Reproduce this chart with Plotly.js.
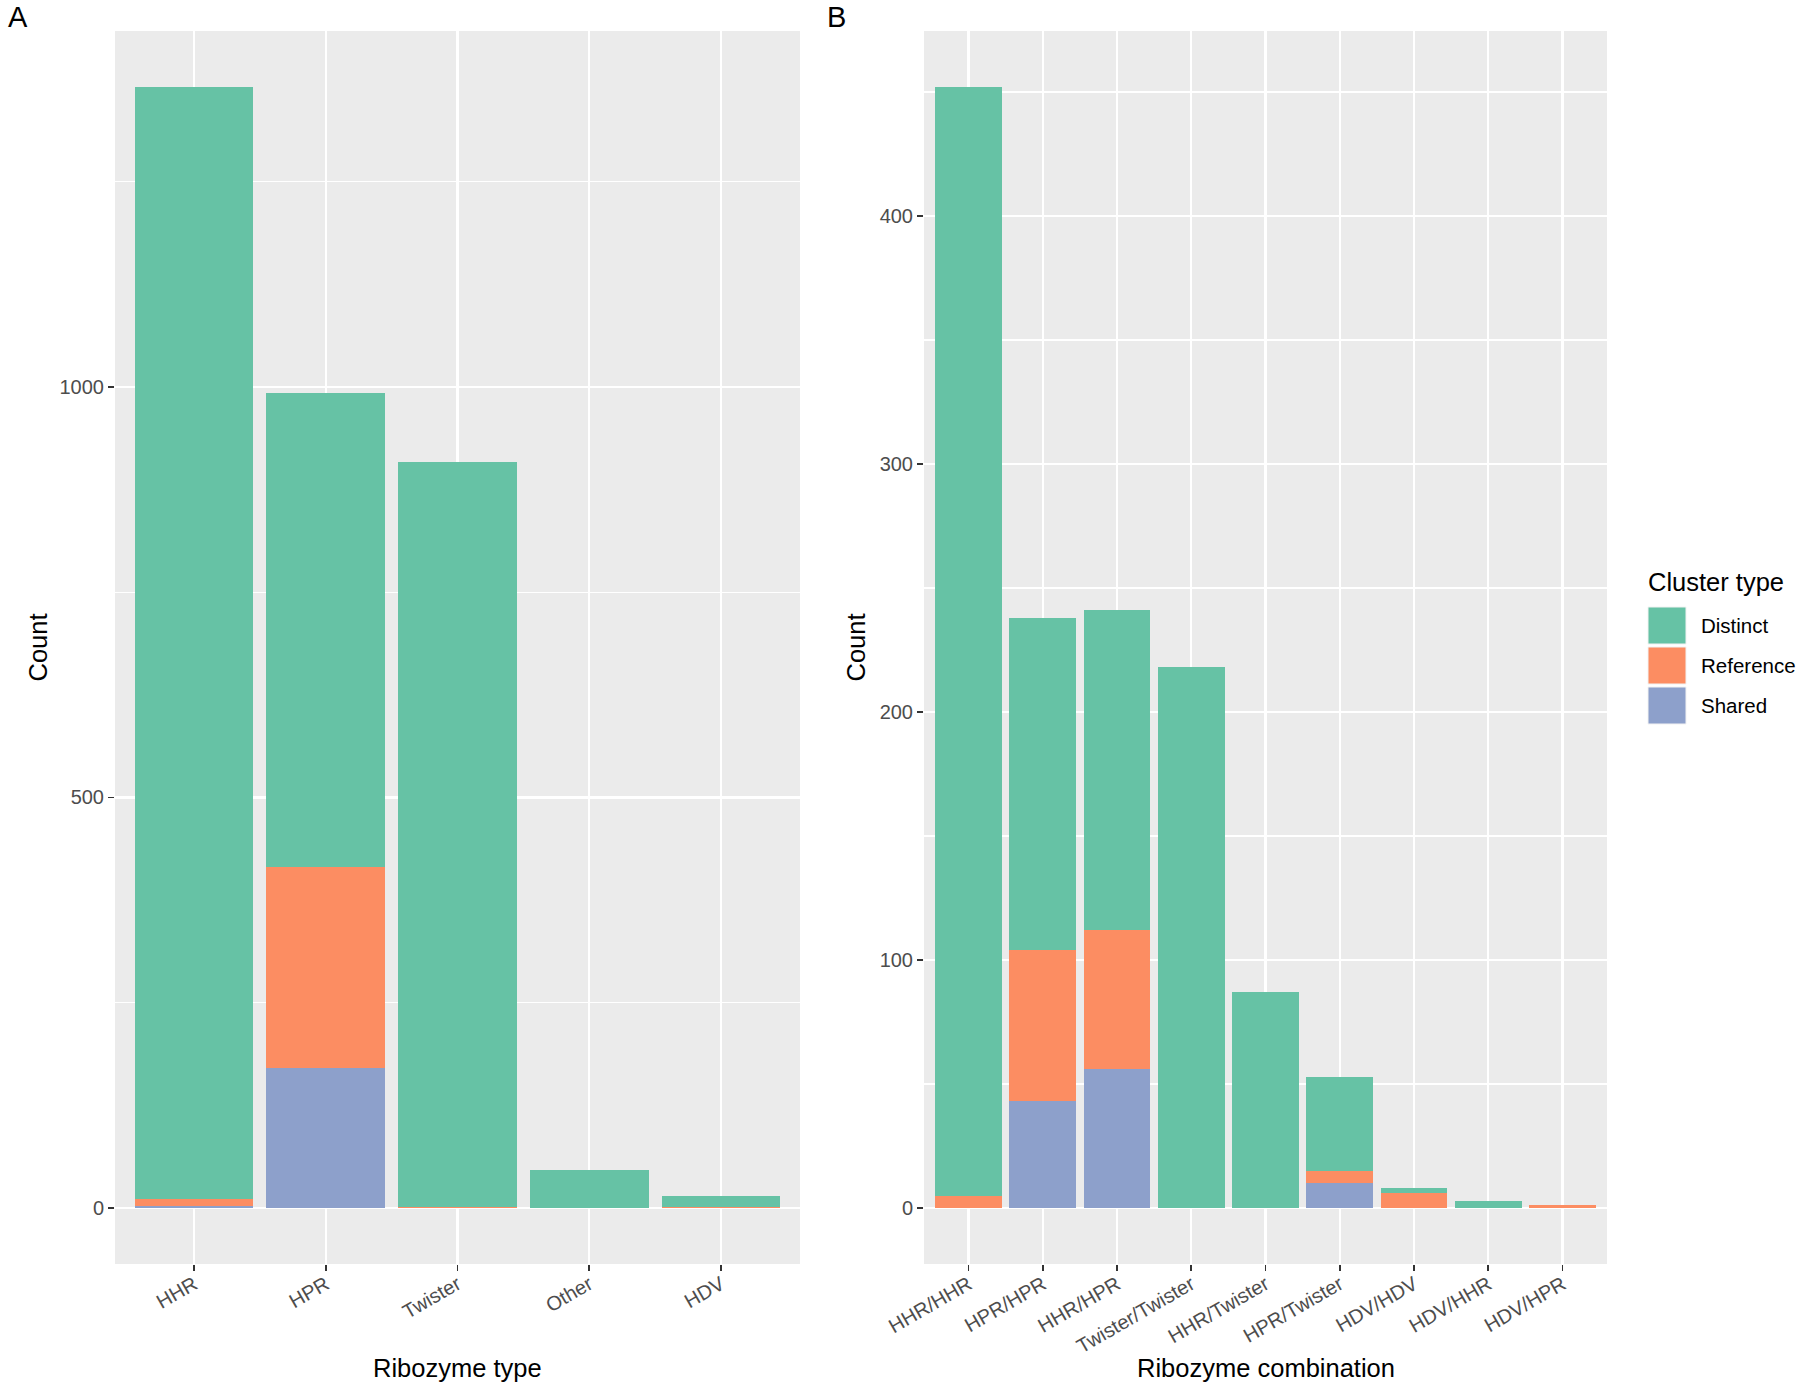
<!DOCTYPE html>
<html>
<head>
<meta charset="utf-8">
<script src="https://cdn.plot.ly/plotly-3.0.1.min.js"></script>
<style>
  html, body { margin: 0; padding: 0; background: #fff; }
  #chart { width: 1800px; height: 1389px; }
</style>
</head>
<body>
<div id="chart"></div>
<script>
// Panel A: counts per ribozyme type
var typeCats = ['HHR', 'HPR', 'Twister', 'Other', 'HDV'];
var typeDistinct = [1354, 577, 908, 46, 14];
var typeReference = [9, 244, 1, 0, 1];
var typeShared = [2, 171, 0, 0, 0];

// Panel B: counts per ribozyme combination
var combCats = ['HHR/HHR', 'HPR/HPR', 'HHR/HPR', 'Twister/Twister', 'HHR/Twister',
                'HPR/Twister', 'HDV/HDV', 'HDV/HHR', 'HDV/HPR'];
var combDistinct = [447, 134, 129, 218, 87, 38, 2, 3, 0];
var combReference = [5, 61, 56, 0, 0, 5, 6, 0, 1];
var combShared = [0, 43, 56, 0, 0, 10, 0, 0, 0];

var clusterTypes = ['Distinct', 'Reference', 'Shared'];
var clusterColors = ['#66C2A5', '#FC8D62', '#8DA0CB'];

var FONT = 'Liberation Sans, Arial, Helvetica, sans-serif';
var CHART = document.getElementById('chart');

function barTrace(x, y, idx, xa, ya) {
    return {
        x: x, y: y, type: 'bar', name: clusterTypes[idx],
        xaxis: xa, yaxis: ya, showlegend: false,
        marker: { color: clusterColors[idx], line: { width: 0 } },
        hoverinfo: 'x+y+name'
    };
}

// plotly stacks the first trace at the bottom, so Shared goes first
var data = [
    barTrace(typeCats, typeShared, 2, 'x', 'y'),
    barTrace(typeCats, typeReference, 1, 'x', 'y'),
    barTrace(typeCats, typeDistinct, 0, 'x', 'y'),
    barTrace(combCats, combShared, 2, 'x2', 'y2'),
    barTrace(combCats, combReference, 1, 'x2', 'y2'),
    barTrace(combCats, combDistinct, 0, 'x2', 'y2')
];

function totals(a, b, c) {
    return a.map(function (v, i) { return v + b[i] + c[i]; });
}
var maxA = Math.max.apply(null, totals(typeDistinct, typeReference, typeShared));
var maxB = Math.max.apply(null, totals(combDistinct, combReference, combShared));

var tickFont = { family: FONT, size: 20, color: '#4D4D4D' };
var titleFont = { family: FONT, size: 25.5, color: '#000' };

function xAxis(n, domain, anchor) {
    return {
        domain: domain, anchor: anchor, type: 'category',
        range: [-0.6, n - 0.4],
        showgrid: true, gridcolor: '#FFFFFF', gridwidth: 2.3,
        zeroline: false, showline: false,
        ticks: 'outside', ticklen: 6, tickwidth: 1.6, tickcolor: '#333333',
        tickangle: -30, tickfont: tickFont, ticklabelstandoff: -6,
        fixedrange: true
    };
}
function yAxis(maxv, dtick, anchor) {
    return {
        domain: [0, 1], anchor: anchor,
        range: [-0.05 * maxv, maxv * 1.05],
        tickmode: 'linear', tick0: 0, dtick: dtick,
        showgrid: true, gridcolor: '#FFFFFF', gridwidth: 2.3,
        minor: { dtick: dtick / 2, showgrid: true, gridcolor: '#FFFFFF', gridwidth: 1.1, ticks: '' },
        zeroline: false, showline: false,
        ticks: 'outside', ticklen: 6, tickwidth: 1.6, tickcolor: '#333333',
        tickfont: tickFont,
        fixedrange: true
    };
}

var layout = {
    width: 1800, height: 1389,
    margin: { l: 115, r: 193, t: 31, b: 125 },
    paper_bgcolor: '#FFFFFF',
    plot_bgcolor: '#EBEBEB',
    barmode: 'stack', bargap: 0.1,
    font: { family: FONT },
    showlegend: false,
    xaxis: xAxis(typeCats.length, [0, 685 / 1492], 'y'),
    yaxis: yAxis(maxA, 500, 'x'),
    xaxis2: xAxis(combCats.length, [809 / 1492, 1], 'y2'),
    yaxis2: yAxis(maxB, 100, 'x2')
};

// pixel positions -> paper coords (panels are aligned like the ggplot grid)
var W = 1492, H = 1389 - 31 - 125;
function px(x) { return (x - 115) / W; }
function py(y) { return 1 - (y - 31) / H; }

function note(text, x, y, font, xanchor, angle) {
    return {
        text: text, x: px(x), y: py(y), xref: 'paper', yref: 'paper',
        xanchor: xanchor || 'center', yanchor: 'middle', showarrow: false,
        textangle: angle || 0, font: font
    };
}
var tagFont = { family: FONT, size: 29, color: '#000' };

layout.annotations = [
    note('A', 6, 17, tagFont, 'left'),
    note('B', 825, 17, tagFont, 'left'),
    note('Ribozyme type', 457.5, 1368, titleFont),
    note('Ribozyme combination', 1265.5, 1368, titleFont),
    note('Count', 37, 647.5, titleFont, 'center', -90),
    note('Count', 855, 647.5, titleFont, 'center', -90),
    note('Cluster type', 1646, 582, { family: FONT, size: 25.5, color: '#000' }, 'left')
];

// legend keys drawn to the ggplot key size
var shapes = [];
clusterTypes.forEach(function (name, i) {
    var top = 607 + i * 40;
    shapes.push({
        type: 'rect', xref: 'paper', yref: 'paper',
        x0: px(1648), x1: px(1686), y0: py(top), y1: py(top + 37),
        fillcolor: clusterColors[i], line: { color: '#F2F2F2', width: 1 }
    });
    layout.annotations.push(note(name, 1699, top + 18.5,
        { family: FONT, size: 20.5, color: '#000' }, 'left'));
});
layout.shapes = shapes;

Plotly.newPlot(CHART, data, layout, { displayModeBar: false, staticPlot: true });
</script>
</body>
</html>
